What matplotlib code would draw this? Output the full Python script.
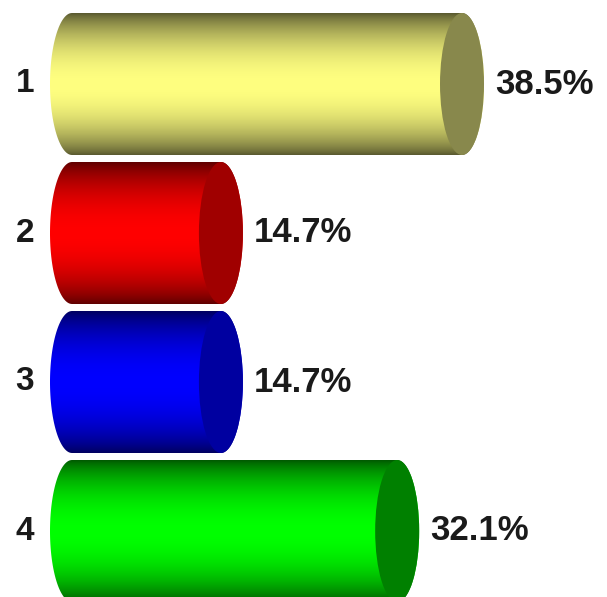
import matplotlib
matplotlib.use("Agg")
import matplotlib.pyplot as plt
import numpy as np
from matplotlib.patches import Ellipse, Polygon
from matplotlib.colors import to_rgb

# data
categories = ['1', '2', '3', '4']
values = [38.5, 14.7, 14.7, 32.1]
labels = ['38.5%', '14.7%', '14.7%', '32.1%']

# dark edge, bright middle, end face
dark = ['#4a4a28', '#500000', '#000050', '#004a00']
bright = ['#ffff80', '#ff0000', '#0000ff', '#00ff00']
face = ['#88884c', '#a00000', '#0000a0', '#008000']

W, H = 607, 597
fig = plt.figure(figsize=(W / 100, H / 100), dpi=100)
ax = fig.add_axes([0, 0, 1, 1])

# pixel mapping: x_pix = 72 + 10.13 * v ; row centre y_pix = 84 + 149 * i
k = 10.13
x0_pix = 72
ax.set_xlim(-x0_pix / k, (W - x0_pix) / k)
ax.set_ylim((H - 84) / 149, -84 / 149)
ax.axis('off')

rx = 22 / k          # ellipse half width in data units
hh = 71 / 149        # half bar height in row units

# vertical shading profile
yy = np.linspace(-1, 1, 200)
prof = np.cos(yy * np.pi / 2 * 0.98) ** 0.7
prof = np.clip(prof, 0, 1)

for i, (v, lab) in enumerate(zip(values, labels)):
    yc = i
    d = np.array(to_rgb(dark[i]))
    b = np.array(to_rgb(bright[i]))
    img = d[None, :] + (b - d)[None, :] * prof[:, None]
    img = img[:, None, :]

    th1 = np.linspace(np.pi / 2, 3 * np.pi / 2, 60)
    th2 = np.linspace(-np.pi / 2, np.pi / 2, 60)
    pts = np.concatenate([
        np.column_stack([0 + rx * np.cos(th1), yc - hh * np.sin(th1)]),
        np.column_stack([v + rx * np.cos(th2), yc - hh * np.sin(th2)]),
    ])
    clip = Polygon(pts, closed=True, facecolor='none', edgecolor='none')
    ax.add_patch(clip)
    im = ax.imshow(img, extent=[-rx, v + rx, yc + hh, yc - hh],
                   aspect='auto', interpolation='bilinear', zorder=2)
    im.set_clip_path(clip)

    ax.add_patch(Ellipse((v, yc), 2 * rx, 2 * hh, facecolor=face[i],
                         edgecolor='none', zorder=3))

    ax.text(-47 / k, yc, categories[i], ha='center', va='center',
            fontsize=24, fontweight='bold', family='Liberation Sans',
            color='#1a1a1a')
    ax.text(v + rx + 11 / k, yc, lab, ha='left', va='center',
            fontsize=25, fontweight='bold', family='Liberation Sans',
            color='#1a1a1a')

fig.savefig('out.png', dpi=100)
